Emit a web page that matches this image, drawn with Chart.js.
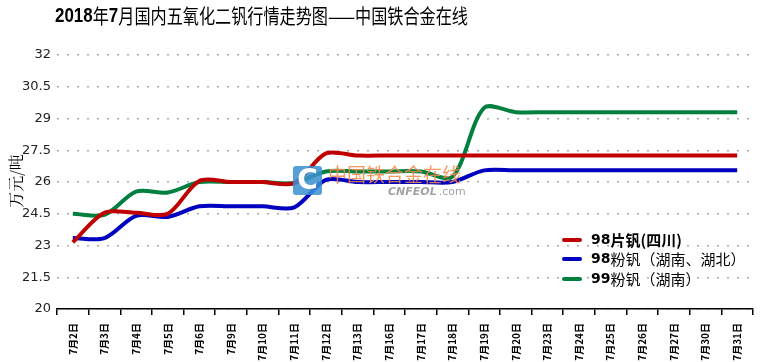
<!DOCTYPE html>
<html><head><meta charset="utf-8">
<script src="https://cdn.jsdelivr.net/npm/chart.js@4"></script>
<style>html,body{margin:0;padding:0;background:#fff}#wrap{width:760px;height:362px}</style>
</head><body><div id="wrap"><canvas id="c" width="760" height="362"></canvas></div>
<script>
const categories = ["7月2日","7月3日","7月4日","7月5日","7月6日","7月9日","7月10日","7月11日","7月12日","7月13日","7月16日","7月17日","7月18日","7月19日","7月20日","7月23日","7月24日","7月25日","7月26日","7月27日","7月30日","7月31日"];
const seriesNames = ["98片钒(四川)","98粉钒（湖南、湖北）","99粉钒（湖南）"];
const red98 =   [23.15,24.55,24.55,24.5,26.05,26.0,26.0,25.95,27.35,27.25,27.25,27.25,27.25,27.25,27.25,27.25,27.25,27.25,27.25,27.25,27.25,27.25];
const blue98 =  [23.35,23.35,24.4,24.35,24.85,24.85,24.85,24.8,26.1,26.0,26.0,26.0,26.0,26.55,26.55,26.55,26.55,26.55,26.55,26.55,26.55,26.55];
const green99 = [24.5,24.45,25.55,25.5,26.0,26.0,26.0,25.95,26.5,26.5,26.5,26.5,26.25,29.5,29.3,29.3,29.3,29.3,29.3,29.3,29.3,29.3];
const yTicks = [20,21.5,23,24.5,26,27.5,29,30.5,32];
const yTitle = "万元/吨";
const colors = ["#C00000","#0000C0","#007F3F"];

const overlay = {
  id:'overlay',
  afterDatasetsDraw(chart){
    const ctx = chart.ctx;
    ctx.save();
    ctx.globalAlpha = 0.85;
    ctx.fillStyle = "#3a8fd0";
    const bx=293,by=166,bw=29,bh=29,r=3;
    ctx.beginPath();
    ctx.moveTo(bx+r,by);ctx.lineTo(bx+bw-r,by);ctx.quadraticCurveTo(bx+bw,by,bx+bw,by+r);
    ctx.lineTo(bx+bw,by+bh-r);ctx.quadraticCurveTo(bx+bw,by+bh,bx+bw-r,by+bh);
    ctx.lineTo(bx+r,by+bh);ctx.quadraticCurveTo(bx,by+bh,bx,by+bh-r);
    ctx.lineTo(bx,by+r);ctx.quadraticCurveTo(bx,by,bx+r,by);ctx.fill();
    ctx.globalAlpha = 1;
    ctx.fillStyle="#fff";
    ctx.font="bold 28px 'DejaVu Sans'";
    ctx.textAlign="center";ctx.textBaseline="middle";
    ctx.fillText("C",bx+bw/2,by+bh/2+1);
    ctx.globalAlpha = 0.85;
    ctx.fillStyle="#F5874A";
    ctx.font="19px 'Noto Sans CJK SC'";
    ctx.textAlign="left";
    ctx.fillText("中国铁合金在线",328,175,139);
    ctx.globalAlpha = 0.9;
    ctx.fillStyle="#999";
    ctx.font="italic bold 11px 'DejaVu Sans'";
    ctx.fillText("CNFEOL",388,192);
    const w = ctx.measureText("CNFEOL").width;
    ctx.font="11px 'DejaVu Sans'";
    ctx.fillText(".com",390+w,192);
    ctx.restore();
  },
  afterDraw(chart){
    const ctx = chart.ctx;
    ctx.save();
    const segs = [["2018","bold"],["年",""],["7","bold"],["月国内五氧化二钒行情走势图——中国铁合金在线",""]];
    let total=0;
    const fonts = segs.map(s => s[1]==="bold" ? "bold 21px 'Liberation Sans'" : "20px 'Noto Sans CJK SC'");
    segs.forEach((s,i)=>{ctx.font=fonts[i]; total+=ctx.measureText(s[0]).width;});
    const sx = 413/total;
    ctx.translate(55,16);
    ctx.scale(sx,1);
    ctx.fillStyle="#000";ctx.textBaseline="middle";ctx.textAlign="left";
    let x=0;
    segs.forEach((s,i)=>{ctx.font=fonts[i]; ctx.fillText(s[0],x,0); x+=ctx.measureText(s[0]).width;});
    ctx.restore();
    ctx.save();
    ctx.translate(16,181);
    ctx.rotate(-Math.PI/2);
    ctx.fillStyle="#000";ctx.textAlign="center";ctx.textBaseline="middle";
    ctx.font="16px 'Noto Serif CJK SC','Noto Sans CJK SC'";
    ctx.fillText(yTitle,0,0);
    ctx.restore();
    ctx.save();
    const rows=[240,259,279];
    chart.data.datasets.forEach((ds,i)=>{
      ctx.strokeStyle=ds.borderColor;ctx.lineWidth=4;ctx.lineCap="round";
      ctx.beginPath();ctx.moveTo(564,rows[i]);ctx.lineTo(580,rows[i]);ctx.stroke();
      const m = ds.label.match(/^(\d+)(.*)$/);
      ctx.fillStyle="#000";ctx.textBaseline="middle";ctx.textAlign="left";
      ctx.font="bold 14px 'DejaVu Sans'";
      ctx.fillText(m[1],591,rows[i]);
      const w=ctx.measureText(m[1]).width;
      ctx.font= i===0 ? "bold 15px 'Noto Sans CJK SC'" : "15px 'Noto Sans CJK SC'";
      ctx.fillText(m[2],591+w,rows[i]);
    });
    ctx.restore();
  }
};

new Chart(document.getElementById('c'),{
  type:'line',
  data:{labels:categories,datasets:[
    {label:seriesNames[0],data:red98,borderColor:colors[0]},
    {label:seriesNames[1],data:blue98,borderColor:colors[1]},
    {label:seriesNames[2],data:green99,borderColor:colors[2]}
  ].map(d=>Object.assign(d,{borderWidth:4,pointRadius:0,fill:false,tension:0.3}))},
  options:{
    responsive:false,animation:false,devicePixelRatio:1,
    layout:{padding:{top:55,right:7,left:0,bottom:0}},
    plugins:{legend:{display:false},title:{display:false},tooltip:{enabled:false}},
    scales:{
      x:{offset:true,
        grid:{offset:true,drawOnChartArea:false,drawTicks:true,tickLength:6,color:'#000',lineWidth:1.5},
        border:{display:true,color:'#000',width:1.5},
        ticks:{minRotation:90,maxRotation:90,autoSkip:false,padding:8,color:'#000',font:{family:"'Noto Sans CJK SC'",size:10,weight:'bold'}},
        afterFit(s){s.height=53;}
      },
      y:{min:20,max:32,
        afterBuildTicks(s){s.ticks=yTicks.map(v=>({value:v}));},
        grid:{color:'#aaa',lineWidth:1.5,drawTicks:false,borderDash:[2,8]},
        border:{display:false,dash:[2,8]},
        ticks:{padding:6,color:'#222',font:{family:"'DejaVu Sans'",size:13},callback:v=>String(v)},
        afterFit(s){s.width=57;}
      }
    }
  },
  plugins:[overlay]
});
</script></body></html>
